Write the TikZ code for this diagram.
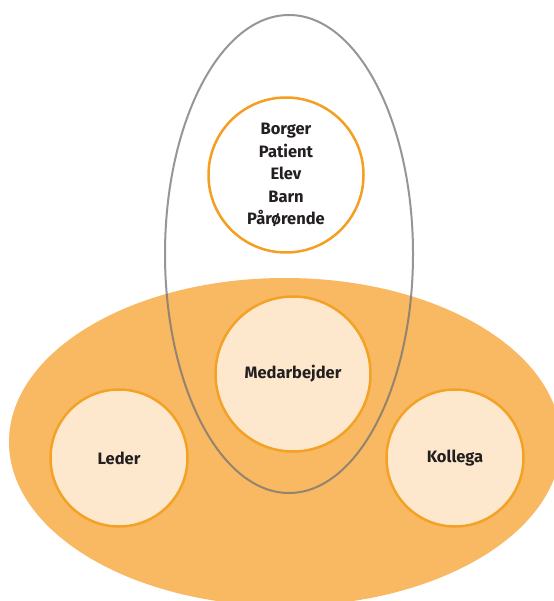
\documentclass[tikz,border=0pt]{standalone}
\usepackage{fontspec}
\setmainfont{Fira Sans}
\usepackage{xcolor}
\usetikzlibrary{shapes.geometric}
\definecolor{felt}{HTML}{F9B862}
\definecolor{lys}{HTML}{FDE8CD}
\definecolor{kant}{HTML}{F4A226}
\definecolor{tekst}{HTML}{231F20}
\tikzset{rolle/.style={circle,draw=kant,line width=2.5pt,fill=lys,inner sep=0pt,
    font=\fontsize{16.5}{22.5}\selectfont\bfseries,text=tekst,align=center}}

\begin{document}
\begin{tikzpicture}[x=1pt,y=-1pt]
    \useasboundingbox[fill=white] (0,0) rectangle (553,601);
    \node[ellipse,fill=felt,minimum width=552pt,minimum height=328pt] (arb) at (285,442) {};
    \node[ellipse,draw=black!55,opacity=0.75,line width=2pt,minimum width=248pt,minimum height=478pt] (rum) at (289,254) {};

    \node[rolle,fill=white,draw=kant!90!orange,minimum size=155pt] (brg) at (286,175) {Borger\\Patient\\Elev\\Barn\\Pårørende};
    \node[rolle,minimum size=155pt] (med) at (293,374) {Medarbejder};
    \node[rolle,minimum size=137pt] (led) at (119,458) {Leder};
    \node[rolle,minimum size=137pt] (kol) at (455,458) {Kollega};
\end{tikzpicture}
\end{document}
